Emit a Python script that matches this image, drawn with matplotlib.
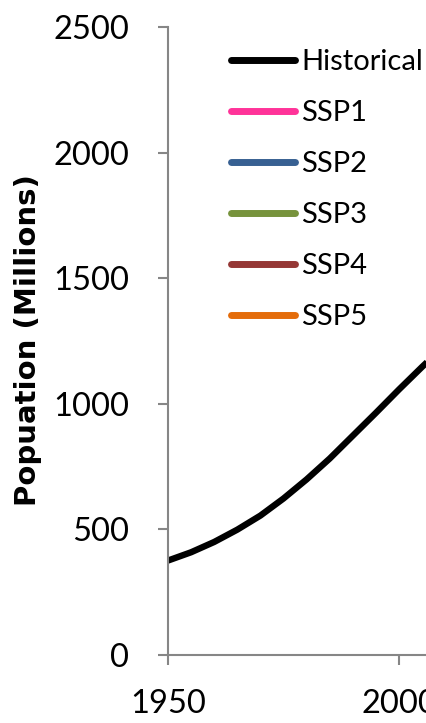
import matplotlib
matplotlib.use("Agg")
import matplotlib.pyplot as plt
from matplotlib.lines import Line2D

plt.rcParams["font.family"] = ["Lato", "DejaVu Sans"]

# Historical population (millions)
years = [1950, 1955, 1960, 1965, 1970, 1975, 1980, 1985, 1990, 1995, 2000, 2005, 2010]
population = [376, 409, 450, 499, 555, 623, 699, 782, 873, 964, 1057, 1147, 1234]

series_names = ["Historical", "SSP1", "SSP2", "SSP3", "SSP4", "SSP5"]
series_colors = ["#000000", "#FF3399", "#376092", "#77933C", "#953735", "#E46C0A"]

y_ticks = [0, 500, 1000, 1500, 2000, 2500]
x_ticks = [1950, 2000, 2050, 2100]

W, H = 426, 723
fig = plt.figure(figsize=(W / 100, H / 100), dpi=100)
ax_left = 168 / W
ax_bottom = (H - 655) / H
ax_height = 628 / H
ax_width = (231 * 3) / W
ax = fig.add_axes([ax_left, ax_bottom, ax_width, ax_height])

ax.plot(years, population, color=series_colors[0], lw=4.6, solid_capstyle="butt")

ax.set_xlim(1950, 2100)
ax.set_ylim(0, 2500)
ax.set_xticks(x_ticks)
ax.set_yticks(y_ticks)
ax.tick_params(axis="both", direction="out", length=7.5, width=1.5, color="#868686",
               labelsize=23.5, pad=17)
ax.tick_params(axis="y", pad=20.5)
for side in ["top", "right"]:
    ax.spines[side].set_visible(False)
for side in ["left", "bottom"]:
    ax.spines[side].set_color("#868686")
    ax.spines[side].set_linewidth(1.5)

fig.text(28 / W, 1 - 340 / H, "Popuation (Millions)", rotation=90,
         ha="center", va="center", fontsize=21, fontweight="bold",
         family=["DejaVu Sans"])

handles = [Line2D([], [], color=c, lw=5, solid_capstyle="round") for c in series_colors]
leg = fig.legend(handles, series_names, loc="upper left",
                 bbox_to_anchor=(231 / W, (H - 49) / H), frameon=False,
                 fontsize=21, handlelength=2.19, handletextpad=0.22,
                 labelspacing=0.86, borderaxespad=0, borderpad=0)

fig.savefig("out.png", dpi=100)
